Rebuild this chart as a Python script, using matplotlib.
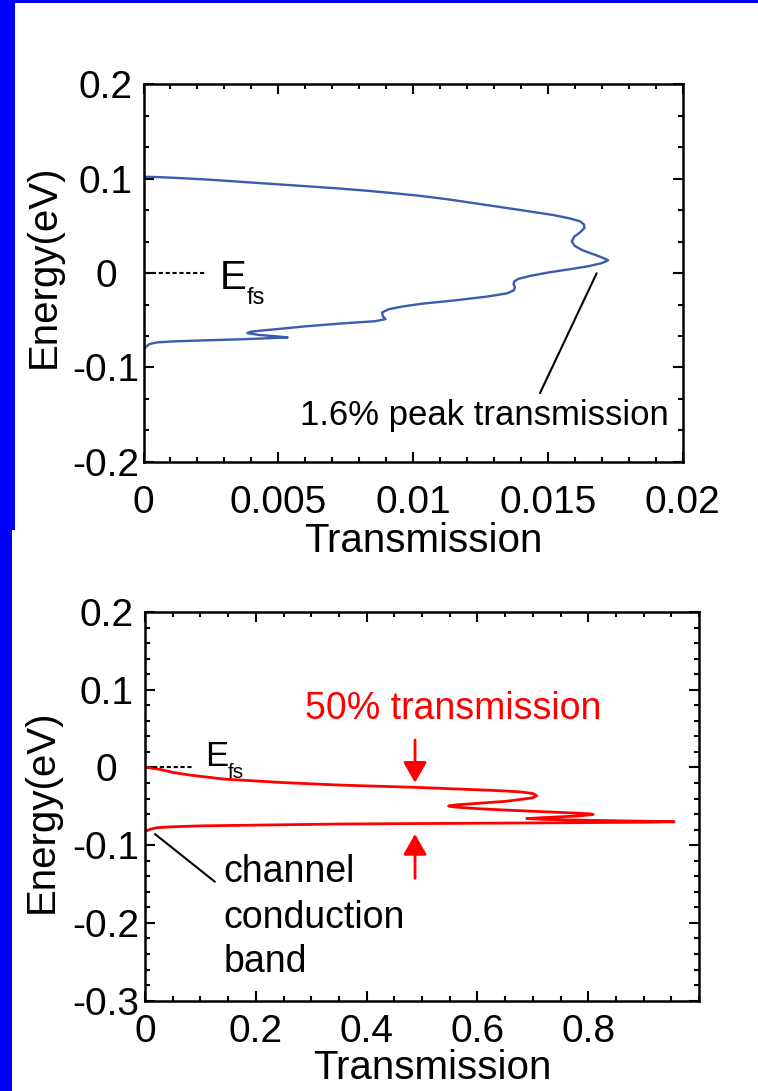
import matplotlib
matplotlib.use("Agg")
import matplotlib.pyplot as plt
from matplotlib.patches import Rectangle
from matplotlib.ticker import MultipleLocator, AutoMinorLocator, FixedLocator, FuncFormatter

plt.rcParams['font.family'] = ['Liberation Sans', 'DejaVu Sans']
plt.rcParams['axes.unicode_minus'] = False

# ---------------- data ----------------
# top panel (blue): Transmission vs Energy (eV)
top_T = [0.0, 0.0005, 0.0011, 0.0024, 0.0036, 0.0050, 0.0063, 0.0073, 0.0083, 0.0093,
         0.0103, 0.0113, 0.0127, 0.0140, 0.0152, 0.0158, 0.0162, 0.01634, 0.01636,
         0.0162, 0.01598, 0.01589, 0.0160, 0.0163, 0.0168, 0.01712, 0.01724, 0.0170,
         0.0165, 0.0158, 0.0150, 0.01435, 0.0139, 0.01375, 0.01373, 0.01378, 0.01374,
         0.0135, 0.0130, 0.0127, 0.0115, 0.0103, 0.0096, 0.0091, 0.00885, 0.00888,
         0.00898, 0.0086, 0.0073, 0.0060, 0.0048, 0.0040, 0.00385, 0.0043, 0.0049,
         0.00535, 0.0045, 0.0036, 0.0023, 0.0011, 0.0005, 0.00022, 0.0001, 0.0]
top_E = [0.102, 0.1017, 0.1010, 0.0990, 0.0967, 0.0940, 0.0915, 0.0895, 0.0872, 0.0846,
         0.0817, 0.0781, 0.0722, 0.0667, 0.0615, 0.0580, 0.0548, 0.0515, 0.0478,
         0.0432, 0.0385, 0.0335, 0.0287, 0.0240, 0.0188, 0.0152, 0.0135, 0.0105,
         0.0072, 0.0040, 0.0005, -0.0030, -0.0062, -0.0090, -0.0118, -0.0150, -0.0183,
         -0.0214, -0.0238, -0.0251, -0.0291, -0.0326, -0.0355, -0.0383, -0.0418, -0.0458,
         -0.0488, -0.0510, -0.0535, -0.0565, -0.0598, -0.0620, -0.0636, -0.0656, -0.0670,
         -0.0682, -0.0692, -0.0702, -0.0713, -0.0724, -0.0735, -0.0752, -0.0780, -0.0816]

# bottom panel (red): Transmission vs Energy (eV)
bot_T = [0.0, 0.003, 0.015, 0.027, 0.051, 0.081, 0.141, 0.171, 0.25, 0.352, 0.487,
         0.617, 0.653, 0.680, 0.700, 0.707, 0.700, 0.680, 0.653, 0.600, 0.560, 0.548,
         0.560, 0.600, 0.650, 0.707, 0.770, 0.803, 0.809, 0.780, 0.720, 0.689, 0.720,
         0.800, 0.900, 0.955, 0.900, 0.750, 0.600, 0.496, 0.352, 0.171, 0.100, 0.051,
         0.021, 0.010, 0.003, 0.0]
bot_E = [0.0005, 0.0, -0.0012, -0.0025, -0.0065, -0.0098, -0.0149, -0.0162, -0.0195, -0.0227, -0.0256,
         -0.0292, -0.0304, -0.0316, -0.0336, -0.0364, -0.0390, -0.0410, -0.0435, -0.0462, -0.0483, -0.0496,
         -0.0510, -0.0530, -0.0548, -0.0566, -0.0585, -0.0597, -0.0606, -0.0625, -0.0645, -0.0658, -0.0668,
         -0.0680, -0.0692, -0.0699, -0.0705, -0.0712, -0.0718, -0.0722, -0.0728, -0.0745, -0.0752, -0.0763,
         -0.0776, -0.0795, -0.0814, -0.083]

top_xticks = [0, 0.005, 0.01, 0.015, 0.02]
top_yticks = [-0.2, -0.1, 0, 0.1, 0.2]
bot_xticks = [0, 0.2, 0.4, 0.6, 0.8]
bot_yticks = [-0.3, -0.2, -0.1, 0, 0.1, 0.2]

BLUE_LINE = '#3a5bb0'
RED = '#ff0000'

W, H = 758, 1091
fig = plt.figure(figsize=(W / 100, H / 100), dpi=100, facecolor='#0000ff')

def fx(px):
    return px / W

def fy(py):
    return 1 - py / H

# white panels on the blue slide background
fig.patches.append(Rectangle((fx(15), fy(530)), fx(758 - 15), (530 - 3) / H,
                             transform=fig.transFigure, facecolor='white', edgecolor='none', zorder=-10))
fig.patches.append(Rectangle((fx(12), 0), fx(758 - 12), (H - 530) / H,
                             transform=fig.transFigure, facecolor='white', edgecolor='none', zorder=-10))

ax1 = fig.add_axes([fx(143.5), fy(461.8), fx(682.6 - 143.5), (461.8 - 84.3) / H])
ax2 = fig.add_axes([fx(145), fy(1000.6), fx(699 - 145), (1000.6 - 612) / H])

fmt = FuncFormatter(lambda v, p: ('%g' % round(v, 6)) if abs(v) > 1e-12 else '0')

def style(ax, xtick_pad, ytick_pad):
    ax.set_facecolor('none')
    for s in ax.spines.values():
        s.set_linewidth(1.8)
    ax.tick_params(which='both', direction='in', top=True, right=True, width=1.5)
    ax.tick_params(which='major', length=7)
    ax.tick_params(which='minor', length=3.5)
    ax.tick_params(axis='x', which='major', labelsize=28, pad=xtick_pad)
    ax.tick_params(axis='y', which='major', labelsize=28, pad=ytick_pad)
    for lab in ax.get_yticklabels():
        lab.set_horizontalalignment('center')
    ax.xaxis.set_major_formatter(fmt)
    ax.yaxis.set_major_formatter(fmt)

# ---------------- top panel ----------------
ax1.plot(top_T, top_E, color=BLUE_LINE, lw=1.7, solid_joinstyle='round')
ax1.set_xlim(0, 0.02)
ax1.set_ylim(-0.2, 0.2)
ax1.xaxis.set_major_locator(FixedLocator(top_xticks))
ax1.xaxis.set_minor_locator(MultipleLocator(0.001))
ax1.yaxis.set_major_locator(FixedLocator(top_yticks))
ax1.yaxis.set_minor_locator(AutoMinorLocator(3))
style(ax1, 17, 27)
ax1.set_xlabel('Transmission', fontsize=29)
ax1.set_ylabel('Energy(eV)', fontsize=29)

# Fermi level marker
ax1.plot([0.00005, 0.00235], [0, 0], color='black', lw=1.5, ls=(0, (2, 1.3)))
ax1.text(0.00284, -0.0173, 'E', fontsize=29, ha='left', va='baseline')
ax1.text(0.00383, -0.0328, 'fs', fontsize=17, ha='left', va='baseline')
ax1.annotate('', xy=(0.01681, -0.0003), xytext=(0.01471, -0.1272),
             arrowprops=dict(arrowstyle='-', color='black', lw=1.5, shrinkA=0, shrinkB=0))
ax1.text(0.0058, -0.161, '1.6% peak transmission', fontsize=25, ha='left', va='baseline')

# ---------------- bottom panel ----------------
ax2.plot(bot_T, bot_E, color=RED, lw=2.0, solid_joinstyle='round')
ax2.set_xlim(0, 1)
ax2.set_ylim(-0.3, 0.2)
ax2.xaxis.set_major_locator(FixedLocator(bot_xticks))
ax2.xaxis.set_minor_locator(MultipleLocator(0.05))
ax2.yaxis.set_major_locator(FixedLocator(bot_yticks))
ax2.yaxis.set_minor_locator(MultipleLocator(0.02))
style(ax2, 10, 28)
ax2.set_xlabel('Transmission', fontsize=29)
ax2.set_ylabel('Energy(eV)', fontsize=29)

ax2.plot([0.014, 0.086], [0, 0], color='black', lw=1.5, ls=(0, (2, 1.3)))
ax2.text(0.1083, 0.0018, 'E', fontsize=25, ha='left', va='baseline')
ax2.text(0.1498, -0.0136, 'fs', fontsize=15, ha='left', va='baseline')

ax2.text(0.2888, 0.0623, '50% transmission', fontsize=27, color=RED, ha='left', va='baseline')
arrow_style = '-|>,head_length=0.35,head_width=0.2'
ax2.annotate('', xy=(0.4874, -0.0197), xytext=(0.4874, 0.0353),
             arrowprops=dict(arrowstyle=arrow_style, color=RED, lw=2, mutation_scale=36,
                             shrinkA=0, shrinkB=0))
ax2.annotate('', xy=(0.4874, -0.0857), xytext=(0.4874, -0.1427),
             arrowprops=dict(arrowstyle=arrow_style, color=RED, lw=2, mutation_scale=36,
                             shrinkA=0, shrinkB=0))

ax2.annotate('', xy=(0.018, -0.0857), xytext=(0.126, -0.147),
             arrowprops=dict(arrowstyle='-', color='black', lw=1.5, shrinkA=0, shrinkB=0))
for txt, e in [('channel', -0.148), ('conduction', -0.2067), ('band', -0.2638)]:
    ax2.text(0.141, e, txt, fontsize=27, ha='left', va='baseline')

# axis label placement
for ax, xl, yl in [(ax1, (0.519, -0.239), (-0.164, 0.5187)),
                   (ax2, (0.518, -0.2007), (-0.166, 0.488))]:
    ax.xaxis.label.set_va('baseline')
    ax.xaxis.set_label_coords(*xl)
    ax.yaxis.label.set_rotation_mode('anchor')
    ax.yaxis.label.set_va('baseline')
    ax.yaxis.label.set_ha('center')
    ax.yaxis.set_label_coords(*yl)

fig.savefig('out.png', dpi=100, facecolor=fig.get_facecolor())
